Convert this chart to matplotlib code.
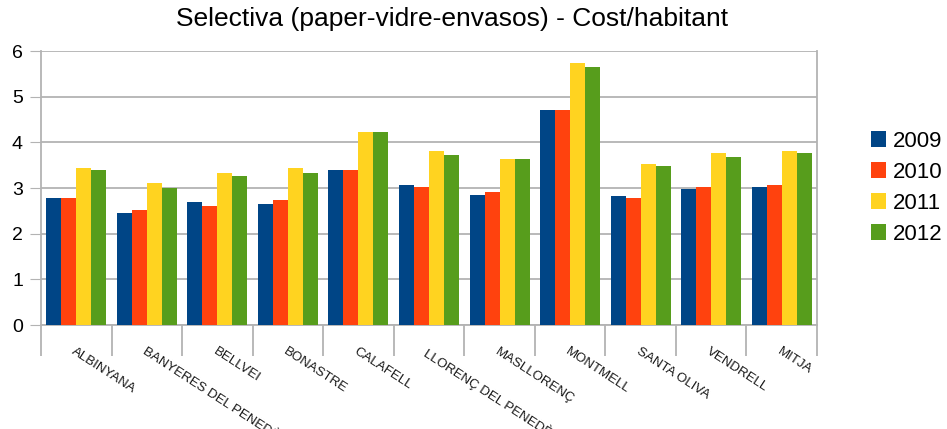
import numpy as np
import matplotlib.pyplot as plt

plt.rcParams['font.family'] = ['Liberation Sans', 'DejaVu Sans']

# Cost per habitant, selective collection
municipis = ['ALBINYANA', 'BANYERES DEL PENEDÈS', 'BELLVEI', 'BONASTRE', 'CALAFELL',
             'LLORENÇ DEL PENEDÈS', 'MASLLORENÇ', 'MONTMELL', 'SANTA OLIVA',
             'VENDRELL', 'MITJA']
anys = ['2009', '2010', '2011', '2012']
v2009 = [2.78, 2.46, 2.69, 2.65, 3.39, 3.07, 2.84, 4.70, 2.83, 2.98, 3.02]
v2010 = [2.78, 2.51, 2.60, 2.74, 3.39, 3.02, 2.92, 4.70, 2.78, 3.02, 3.07]
v2011 = [3.44, 3.10, 3.34, 3.44, 4.23, 3.82, 3.63, 5.73, 3.53, 3.76, 3.82]
v2012 = [3.39, 3.01, 3.26, 3.34, 4.23, 3.72, 3.63, 5.64, 3.49, 3.67, 3.77]
colors = ['#004586', '#ff420e', '#ffd320', '#579d1c']

fig = plt.figure(figsize=(9.47, 4.29), dpi=100)
ax = fig.add_axes([0.0433, 0.2424, 0.8194, 0.6386])

x = np.arange(len(municipis))
w = 0.2125
for i, (serie, c, nom) in enumerate(zip([v2009, v2010, v2011, v2012], colors, anys)):
    ax.bar(x + (i - 1.5) * w, serie, w, color=c, label=nom, zorder=3)

ax.set_xlim(-0.5, len(municipis) - 0.5)
ax.set_ylim(0, 6)
ax.set_yticks(range(7))
ax.tick_params(axis='y', labelsize=14, length=8, color='#b3b3b3', pad=5)
ax.grid(axis='y', color='#b3b3b3', linewidth=1.3, zorder=0)

# category boundaries as long ticks, names rotated under each group
ax.set_xticks(np.arange(len(municipis) + 1) - 0.5)
ax.set_xticklabels([])
ax.tick_params(axis='x', length=22, color='#b3b3b3', width=1.3)
for xi, nom in zip(x, municipis):
    ax.text(xi, -0.45, nom, rotation=-33, rotation_mode='anchor', ha='left', va='top',
            fontsize=9.5, color='#1a1a1a', transform=ax.transData, clip_on=False)

for s in ['left', 'right', 'bottom']:
    ax.spines[s].set_color('#b3b3b3')
    ax.spines[s].set_linewidth(1.3)
ax.spines['top'].set_visible(False)

fig.text(0.477, 0.955, 'Selectiva (paper-vidre-envasos) - Cost/habitant',
         ha='center', va='center', fontsize=19)

ax.legend(loc='center left', bbox_to_anchor=(1.055, 0.5), frameon=False,
          fontsize=16, handlelength=0.7, handleheight=0.7, handletextpad=0.3,
          labelspacing=0.45, borderpad=0)

fig.savefig('out.png', dpi=100)
